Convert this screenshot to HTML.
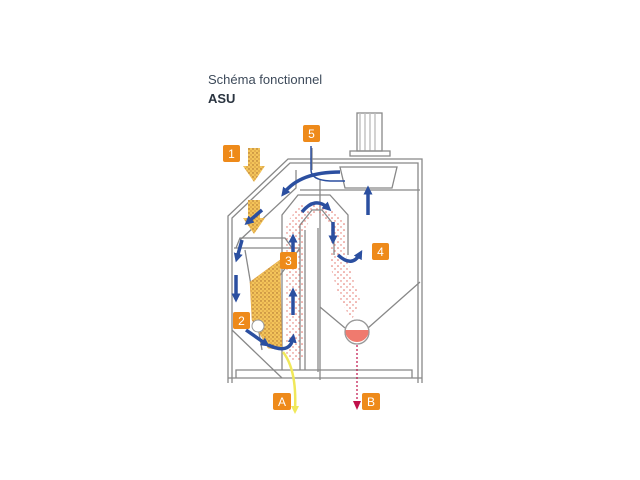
<!DOCTYPE html>
<html><head><meta charset="utf-8"><style>
html,body{margin:0;padding:0;background:#fff;}
body{width:640px;height:480px;position:relative;overflow:hidden;font-family:"Liberation Sans",sans-serif;}
.t1{position:absolute;left:208px;top:72px;font-size:13px;color:#3d4a5a;}
.t2{position:absolute;left:208px;top:91px;font-size:13px;font-weight:bold;color:#2a3440;}
svg{position:absolute;left:0;top:0;}
</style></head><body>
<div class="t1">Schéma fonctionnel</div>
<div class="t2">ASU</div>
<svg width="640" height="480" viewBox="0 0 640 480">
<defs>
<pattern id="dots" width="4" height="4" patternUnits="userSpaceOnUse"><rect width="4" height="4" fill="#f3c45a"/><circle cx="1" cy="1" r="0.7" fill="#a0622a"/><circle cx="3" cy="3" r="0.6" fill="#c07a30"/></pattern>
<pattern id="red" width="6" height="6" patternUnits="userSpaceOnUse"><circle cx="2" cy="2" r="0.8" fill="#e06a60"/><circle cx="5" cy="5" r="0.7" fill="#e06a60"/></pattern>
<marker id="ah" markerWidth="2.6" markerHeight="2.6" refX="1.3" refY="1.3" orient="auto"><path d="M0,0 L2.6,1.3 L0,2.6z" fill="#2b4fa0"/></marker>
</defs>
<g fill="none" stroke="#888" stroke-width="1.3">
<path d="M228,383 V216 L288,159 H422 V383"/>
<path d="M232,383 V218 L290,163 H418 V383"/>
<path d="M240,240 L296,188 V170"/>
<path d="M228,378 H422"/>
<path d="M236,378 V370 H412 V378"/>
<path d="M234,248 H300"/>
<path d="M236,248 L240,238 H285 L292,248"/>
<path d="M245,250 L262,350"/>
<path d="M300,248 L262,300"/>
<path d="M232,330 L282,378"/>
<path d="M282,370 V215 L298,195 H330 L348,215 V255"/>
<path d="M300,370 V225 L312,210 L322,210 L334,225 V255"/>
<path d="M305,370 V230 M318,228 V372"/>
<path d="M320,180 V380"/>
<path d="M300,190 H420"/>
<path d="M320,307 L345,328 M368,328 L420,282"/>
<circle cx="357" cy="332" r="12" stroke="#999"/>
<rect x="357" y="113" width="25" height="38" fill="#fff"/>
<path d="M360,113 V151 M365,113 V151 M370,113 V151 M375,113 V151" stroke="#bbb"/>
<path d="M350,151 H390 V156 H350z"/>
<path d="M340,167 H397 L392,188 H345z" fill="#fff"/>
<path d="M312,148 V170"/>
</g>
<path d="M345,330 A12,12 0 0 0 369,330 Z" fill="#f07a6e"/>
<circle cx="357" cy="332" r="12" fill="none" stroke="#999" stroke-width="1"/>
<path d="M248,148 h12 v18 h5 l-11,16 l-11,-16 h5z" fill="url(#dots)"/>
<path d="M248,200 h12 v18 h5 l-11,16 l-11,-16 h5z" fill="url(#dots)"/>
<path d="M250,282 L280,260 L282,350 L268,348 L252,320z" fill="url(#dots)" stroke="#e0a040" stroke-width="0.5"/>
<path d="M285,360 V225 L300,205 L330,205 L346,225 V255 L360,300 L352,320 L340,300 L330,265 L330,225 L318,212 L312,215 L304,232 V360z" fill="url(#red)"/>
<g fill="none" stroke="#2b4fa0" stroke-width="3.5" marker-end="url(#ah)">
<path d="M340,172 Q300,172 284,193"/>
<path d="M262,210 L248,222"/>
<path d="M242,240 L237,258"/>
<path d="M236,275 V298"/>
<path d="M246,330 L266,344"/>
<path d="M268,345 Q290,355 293,338"/>
<path d="M293,315 V292"/>
<path d="M293,265 V238"/>
<path d="M302,212 Q315,196 328,208"/>
<path d="M333,222 V240"/>
<path d="M338,255 Q352,268 360,254"/>
<path d="M368,215 V190"/>
</g>
<path d="M311,146 V170 Q311,180 330,181 H345" stroke="#2b4fa0" stroke-width="1.5" fill="none"/>
<path d="M283,352 Q297,370 295,410" stroke="#f0e85a" stroke-width="2.5" fill="none"/>
<path d="M291,406 L295,414 L299,406z" fill="#f0e85a"/>
<path d="M357,345 V402" stroke="#c0104a" stroke-width="1.2" stroke-dasharray="2,2"/>
<path d="M353,401 L357,410 L361,401z" fill="#c0104a"/>
<g font-family="Liberation Sans,sans-serif" font-size="12" fill="#fff" text-anchor="middle">
<rect x="223" y="145" width="17" height="17" rx="2" fill="#ee8a1a"/><text x="231.5" y="158">1</text>
<rect x="303" y="125" width="17" height="17" rx="2" fill="#ee8a1a"/><text x="311.5" y="138">5</text>
<rect x="280" y="252" width="17" height="17" rx="2" fill="#ee8a1a"/><text x="288.5" y="265">3</text>
<rect x="372" y="243" width="17" height="17" rx="2" fill="#ee8a1a"/><text x="380.5" y="256">4</text>
<rect x="233" y="312" width="17" height="17" rx="2" fill="#ee8a1a"/><text x="241.5" y="325">2</text>
<rect x="273" y="393" width="18" height="17" rx="2" fill="#ee8a1a"/><text x="282" y="406">A</text>
<rect x="362" y="393" width="18" height="17" rx="2" fill="#ee8a1a"/><text x="371" y="406">B</text>
</g>
<circle cx="258" cy="326" r="6" fill="#fff" stroke="#999"/>
</svg>
</body></html>
